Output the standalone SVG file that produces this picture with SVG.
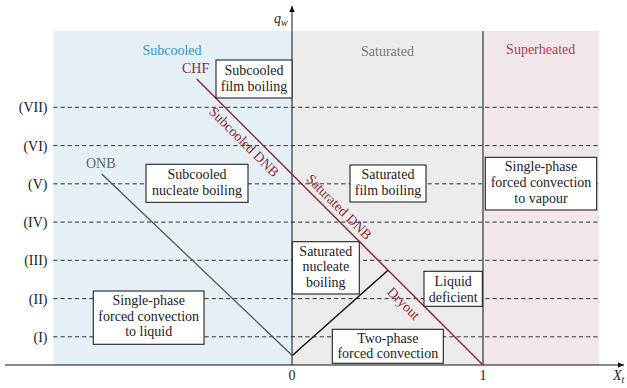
<svg xmlns="http://www.w3.org/2000/svg" width="627" height="388" viewBox="0 0 627 388">
<defs>
<marker id="arr" markerWidth="8" markerHeight="8" refX="6" refY="4" orient="auto" markerUnits="userSpaceOnUse">
<path d="M0,1.2 L6,4 L0,6.8 Z" fill="#111"/>
</marker>
<style>
text{font-family:'Liberation Serif','DejaVu Serif',serif;font-size:14px;fill:#222}
.c{text-anchor:middle}
.r{text-anchor:end}
.dash{stroke:#333;stroke-width:1;stroke-dasharray:4.2 3;fill:none}
.box{fill:#fff;stroke:#222;stroke-width:1.1}
.red{fill:#8e2c40}
</style>
</defs>
<rect width="627" height="388" fill="#fff"/>
<g id="regions">
<rect x="53.3" y="31" width="238.7" height="334" fill="#e4eff6"/>
<rect x="292" y="31" width="191" height="334" fill="#ececec"/>
<rect x="483" y="31" width="116" height="334" fill="#f1e6e8"/>
</g>
<g id="levels">
<line class="dash" x1="53.3" y1="107.3" x2="599" y2="107.3"/>
<line class="dash" x1="53.3" y1="145.6" x2="599" y2="145.6"/>
<line class="dash" x1="53.3" y1="183.8" x2="599" y2="183.8"/>
<line class="dash" x1="53.3" y1="222.1" x2="599" y2="222.1"/>
<line class="dash" x1="53.3" y1="260.3" x2="599" y2="260.3"/>
<line class="dash" x1="53.3" y1="298.6" x2="599" y2="298.6"/>
<line class="dash" x1="53.3" y1="336.8" x2="599" y2="336.8"/>
<text class="r" x="47.5" y="112.3">(VII)</text>
<text class="r" x="47.5" y="150.6">(VI)</text>
<text class="r" x="47.5" y="188.8">(V)</text>
<text class="r" x="47.5" y="227.1">(IV)</text>
<text class="r" x="47.5" y="265.3">(III)</text>
<text class="r" x="47.5" y="303.6">(II)</text>
<text class="r" x="47.5" y="341.8">(I)</text>
</g>
<g id="axes">
<line x1="5" y1="365" x2="624" y2="365" stroke="#111" stroke-width="1" marker-end="url(#arr)"/>
<line x1="292" y1="365" x2="292" y2="6" stroke="#111" stroke-width="1" marker-end="url(#arr)"/>
<line x1="483" y1="31" x2="483" y2="365" stroke="#111" stroke-width="1"/>
<text x="274" y="23" font-style="italic">q<tspan font-size="10" dy="3">w</tspan></text>
<text x="613" y="379.5" font-style="italic">X<tspan font-size="10" dy="3">t</tspan></text>
<text class="c" x="292" y="379.5">0</text>
<text class="c" x="483" y="379.5">1</text>
</g>
<g id="region-labels">
<text class="c" x="172" y="55" style="fill:#3398bd">Subcooled</text>
<text class="c" x="387.5" y="55.5" style="fill:#7a7a7a">Saturated</text>
<text class="c" x="540.7" y="53.5" style="fill:#a3435a">Superheated</text>
</g>
<g id="connectors">
<line x1="196.7" y1="79" x2="483" y2="365" stroke="#8e2c40" stroke-width="1.5"/>
<line x1="101.7" y1="174" x2="292.3" y2="355.5" stroke="#555" stroke-width="1.3"/>
<polyline points="292.3,355.5 388,270.3" fill="none" stroke="#111" stroke-width="1.5"/>
<text class="red" x="182" y="73">CHF</text>
<text x="86" y="168" style="fill:#666">ONB</text>
<text class="c red" transform="translate(244,142) rotate(45)" x="0" y="4.5">Subcooled DNB</text>
<text class="c red" transform="translate(339,207) rotate(45)" x="0" y="4.5">Saturated DNB</text>
<text class="c red" transform="translate(403.5,303.5) rotate(45)" x="0" y="4.5">Dryout</text>
</g>
<g id="subcooled-film-boiling">
<rect class="box" x="216" y="60" width="76" height="38"/>
<text class="c" x="254" y="75">Subcooled</text>
<text class="c" x="254" y="91">film boiling</text>
</g>
<g id="subcooled-nucleate-boiling">
<rect class="box" x="146" y="164.3" width="102" height="38"/>
<text class="c" x="197" y="179">Subcooled</text>
<text class="c" x="197" y="195">nucleate boiling</text>
</g>
<g id="saturated-film-boiling">
<rect class="box" x="350" y="165" width="76" height="37"/>
<text class="c" x="388" y="179">Saturated</text>
<text class="c" x="388" y="195">film boiling</text>
</g>
<g id="single-phase-vapour">
<rect class="box" x="485.3" y="157.3" width="111.4" height="52.7"/>
<text class="c" x="541" y="171">Single-phase</text>
<text class="c" x="541" y="187">forced convection</text>
<text class="c" x="541" y="202.5">to vapour</text>
</g>
<g id="saturated-nucleate-boiling">
<rect class="box" x="292.3" y="241.7" width="67" height="52.3"/>
<text class="c" x="325.8" y="255.5">Saturated</text>
<text class="c" x="325.8" y="271">nucleate</text>
<text class="c" x="325.8" y="287">boiling</text>
</g>
<g id="liquid-deficient">
<rect class="box" x="424" y="271.3" width="58.3" height="35"/>
<text class="c" x="453.2" y="286">Liquid</text>
<text class="c" x="453.2" y="301.5">deficient</text>
</g>
<g id="two-phase-forced-convection">
<rect class="box" x="332.3" y="329.3" width="111" height="34"/>
<text class="c" x="387.8" y="342.5">Two-phase</text>
<text class="c" x="387.8" y="358">forced convection</text>
</g>
<g id="single-phase-liquid">
<rect class="box" x="93.3" y="291" width="110.7" height="53.3"/>
<text class="c" x="148.7" y="305">Single-phase</text>
<text class="c" x="148.7" y="320.5">forced convection</text>
<text class="c" x="148.7" y="336">to liquid</text>
</g>
</svg>
